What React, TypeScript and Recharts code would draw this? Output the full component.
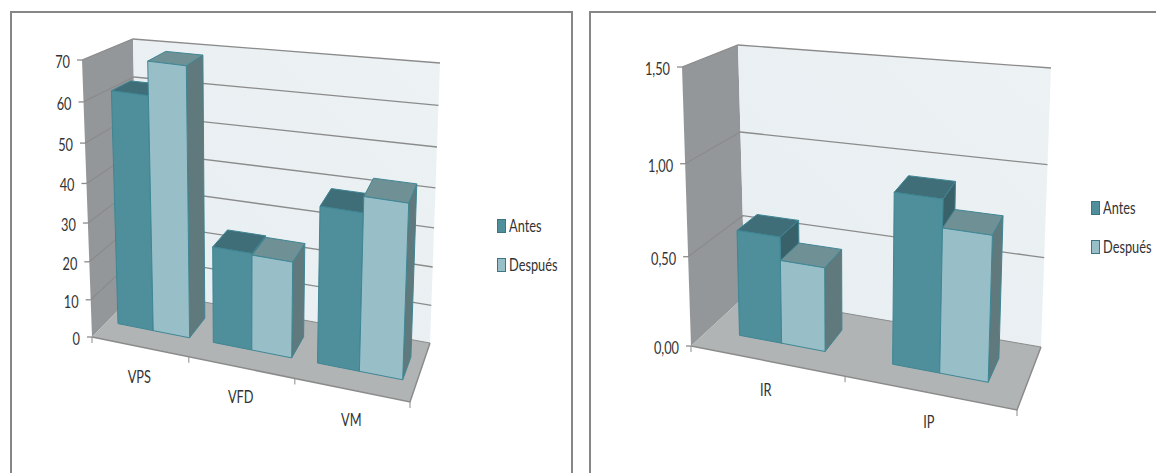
import { BarChart, Bar, XAxis, YAxis, CartesianGrid, Legend } from 'recharts';

// series values per panel
const volumeCategories = ['VPS', 'VFD', 'VM'];
const volumeAntes = [61.1, 25.4, 40];
const volumeDespues = [69.5, 25, 44];
const volumeTicks = [0, 10, 20, 30, 40, 50, 60, 70];

const indexCategories = ['IR', 'IP'];
const indexAntes = [0.6, 0.93];
const indexDespues = [0.47, 0.78];
const indexTicks = [0, 0.5, 1, 1.5];

const seriesNames = ['Antes', 'Después'];

const FONT = 'Lato, "Liberation Sans", sans-serif';
const TEXT = '#333333';
const LINE = '#8b8b8b';
const EDGE = '#3f8694';
const NARROW = 0.71;

const faces: Record<string, { front: string; top: string; side: string }> = {
  Antes: { front: '#4f8e9b', top: '#3f6d78', side: '#38616a' },
  Después: { front: '#98bfc8', top: '#6f9095', side: '#5f797c' },
};

// flat plot rectangle that recharts lays out, before it gets folded into the box
const PLOT = { left: 100, top: 60, width: 300, height: 280 };

type Pt = [number, number];

interface Box {
  fbl: Pt; fbr: Pt; bbl: Pt; bbr: Pt;
  ftl: Pt; ftr: Pt; btl: Pt; btr: Pt;
  warp: number;
  lift: number;
}

const volumeBox: Box = {
  fbl: [92, 337], fbr: [410, 402], bbl: [138, 290], bbr: [430, 343],
  ftl: [82, 60], ftr: [421, 108], btl: [133, 39], btr: [440, 63],
  warp: 0.13,
  lift: 0.07,
};

const indexBox: Box = {
  fbl: [111, 346], fbr: [437, 410], bbl: [165, 296], bbr: [461, 347],
  ftl: [102, 67], ftr: [448, 109], btl: [158, 45], btr: [471, 68],
  warp: 0.11,
  lift: 0.06,
};

const mix = (a: Pt, b: Pt, t: number): Pt => [a[0] + (b[0] - a[0]) * t, a[1] + (b[1] - a[1]) * t];

// u along the categories, v up the value axis, w into the depth
function project(box: Box, u: number, v: number, w: number): Pt {
  const k = u + box.warp * u * (u - 1);
  const h = v + box.lift * v * (v - 1);
  const frontBottom = mix(box.fbl, box.fbr, k);
  const frontTop = mix(box.ftl, box.ftr, k);
  const backBottom = mix(box.bbl, box.bbr, k);
  const backTop = mix(box.btl, box.btr, k);
  return mix(mix(frontBottom, frontTop, h), mix(backBottom, backTop, h), w);
}

const pts = (list: Pt[]) => list.map((p) => `${p[0].toFixed(1)},${p[1].toFixed(1)}`).join(' ');
const toU = (x: number) => (x - PLOT.left) / PLOT.width;
const toV = (y: number) => (PLOT.top + PLOT.height - y) / PLOT.height;

const BAR_FRONT = 0.33;
const BAR_BACK = 0.72;

// sits underneath the chart's svg
function Walls({ box, count, width }: { box: Box; count: number; width: number }) {
  const marks = Array.from({ length: count + 1 }, (_, i) => i / count);
  return (
    <svg width={width} height={473} style={{ position: 'absolute', left: 0, top: 0 }}>
      <defs>
        <linearGradient id={`wall-${width}`} x1="0" y1="1" x2="1" y2="0">
          <stop offset="0" stopColor="#e7eef1" />
          <stop offset="1" stopColor="#edf2f4" />
        </linearGradient>
      </defs>
      <polygon points={pts([box.fbl, box.ftl, box.btl, box.bbl])} fill="#94979a" />
      <polygon points={pts([box.bbl, box.btl, box.btr, box.bbr])} fill={`url(#wall-${width})`} />
      <polygon points={pts([box.fbl, box.bbl, box.bbr, box.fbr])} fill="#b0b4b4" />
      <polyline points={pts([box.fbl, box.fbr, box.bbr])} fill="none" stroke={LINE} strokeWidth={1.5} />
      <line x1={box.bbl[0]} y1={box.bbl[1]} x2={box.bbr[0]} y2={box.bbr[1]} stroke={LINE} strokeWidth={1} />
      {marks.map((m) => {
        const p = project(box, m, 0, 0);
        return <line key={m} x1={p[0]} y1={p[1]} x2={p[0]} y2={p[1] + 6} stroke={LINE} strokeWidth={1} />;
      })}
    </svg>
  );
}

function Panel({ box, categories, antes, despues, ticks, max, gap, legendLeft, legendTop, width, format, labelDy }: {
  box: Box;
  categories: string[];
  antes: number[];
  despues: number[];
  ticks: number[];
  max: number;
  gap: string;
  legendLeft: number;
  legendTop: number;
  width: number;
  format: (v: number) => string;
  labelDy: number;
}) {
  const rows = categories.map((name, i) => ({ name, Antes: antes[i], Después: despues[i] }));

  const renderBar = (props: any) => {
    const { x, y, width: w, height: h, dataKey } = props;
    const f = faces[dataKey];
    const u0 = toU(x);
    const u1 = toU(x + w);
    const v0 = toV(y + h);
    const v1 = toV(y);
    const fbl = project(box, u0, v0, BAR_FRONT);
    const fbr = project(box, u1, v0, BAR_FRONT);
    const ftl = project(box, u0, v1, BAR_FRONT);
    const ftr = project(box, u1, v1, BAR_FRONT);
    const bbr = project(box, u1, v0, BAR_BACK);
    const btl = project(box, u0, v1, BAR_BACK);
    const btr = project(box, u1, v1, BAR_BACK);
    return (
      <g stroke={EDGE} strokeWidth={1} strokeLinejoin="round">
        <polygon points={pts([fbr, ftr, btr, bbr])} fill={f.side} />
        <polygon points={pts([ftl, btl, btr, ftr])} fill={f.top} />
        <polygon points={pts([fbl, ftl, ftr, fbr])} fill={f.front} />
      </g>
    );
  };

  const renderGridLine = (props: any) => {
    const v = toV(props.y1);
    if (v < 0.001) return <g key={props.key} />;
    return (
      <polyline
        key={props.key}
        points={pts([project(box, 0, v, 0), project(box, 0, v, 1), project(box, 1, v, 1)])}
        fill="none"
        stroke={LINE}
        strokeWidth={1.3}
      />
    );
  };

  const renderYTick = (props: any) => {
    const p = project(box, 0, toV(props.y), 0);
    return (
      <g>
        <line x1={p[0] - 5} y1={p[1]} x2={p[0]} y2={p[1]} stroke={LINE} strokeWidth={1.3} />
        <text
          transform={`translate(${p[0] - 12} ${p[1] + 8}) scale(${NARROW} 1)`}
          textAnchor="end"
          fontFamily={FONT}
          fontSize={18}
          fill={TEXT}
        >
          {format(props.payload.value)}
        </text>
      </g>
    );
  };

  const renderXTick = (props: any) => {
    const p = project(box, toU(props.x), 0, 0);
    return (
      <text
        transform={`translate(${p[0]} ${p[1] + labelDy}) scale(${NARROW} 1)`}
        textAnchor="middle"
        fontFamily={FONT}
        fontSize={18}
        fill={TEXT}
      >
        {props.payload.value}
      </text>
    );
  };

  const renderLegend = (props: any) => (
    <div>
      {props.payload.map((entry: any) => (
        <div key={entry.value} style={{ display: 'flex', alignItems: 'center', height: 14, marginBottom: 25 }}>
          <span style={{ width: 7, height: 12, background: entry.color, border: '1px solid #3d7583', marginRight: 3 }} />
          <span
            style={{
              fontFamily: FONT,
              fontSize: 18,
              color: TEXT,
              display: 'inline-block',
              marginTop: -2,
              transform: `scaleX(${NARROW})`,
              transformOrigin: 'left center',
            }}
          >
            {entry.value}
          </span>
        </div>
      ))}
    </div>
  );

  return (
    <>
      <Walls box={box} count={categories.length} width={width} />
      <BarChart
        width={width}
        height={473}
        data={rows}
        barGap={0}
        barCategoryGap={gap}
        margin={{ top: PLOT.top, left: PLOT.left - 60, right: width - PLOT.left - PLOT.width, bottom: 473 - PLOT.top - PLOT.height - 30 }}
      >
        <CartesianGrid vertical={false} horizontal={renderGridLine} />
        <XAxis dataKey="name" height={30} axisLine={false} tickLine={false} interval={0} tick={renderXTick} />
        <YAxis width={60} domain={[0, max]} ticks={ticks} axisLine={false} tickLine={false} interval={0} tick={renderYTick} />
        {seriesNames.map((name) => (
          <Bar key={name} dataKey={name} fill={faces[name].front} shape={renderBar} isAnimationActive={false} />
        ))}
        <Legend
          layout="vertical"
          align="center"
          verticalAlign="middle"
          content={renderLegend}
          wrapperStyle={{ left: legendLeft, top: legendTop, width: 80, transform: 'none' }}
        />
      </BarChart>
    </>
  );
}

const frame = {
  position: 'absolute' as const,
  top: 11,
  height: 470,
  borderTop: '2px solid #868686',
  borderLeft: '2px solid #868686',
  borderRight: '2px solid #868686',
};

export default function App() {
  return (
    <div style={{ position: 'fixed', left: 0, top: 0, width: 1156, height: 473, overflow: 'hidden', background: '#fff' }}>
      <div style={{ ...frame, left: 10, width: 559 }} />
      <div style={{ ...frame, left: 589, width: 600 }} />
      <div style={{ position: 'absolute', left: 0, top: 0 }}>
        <Panel
          box={volumeBox}
          categories={volumeCategories}
          antes={volumeAntes}
          despues={volumeDespues}
          ticks={volumeTicks}
          max={70}
          gap="12%"
          legendLeft={497}
          legendTop={219}
          width={580}
          format={(v) => String(v)}
          labelDy={36}
        />
      </div>
      <div style={{ position: 'absolute', left: 580, top: 0 }}>
        <Panel
          box={indexBox}
          categories={indexCategories}
          antes={indexAntes}
          despues={indexDespues}
          ticks={indexTicks}
          max={1.5}
          gap="21.5%"
          legendLeft={511}
          legendTop={201}
          width={576}
          format={(v) => v.toFixed(2).replace('.', ',')}
          labelDy={35}
        />
      </div>
    </div>
  );
}
